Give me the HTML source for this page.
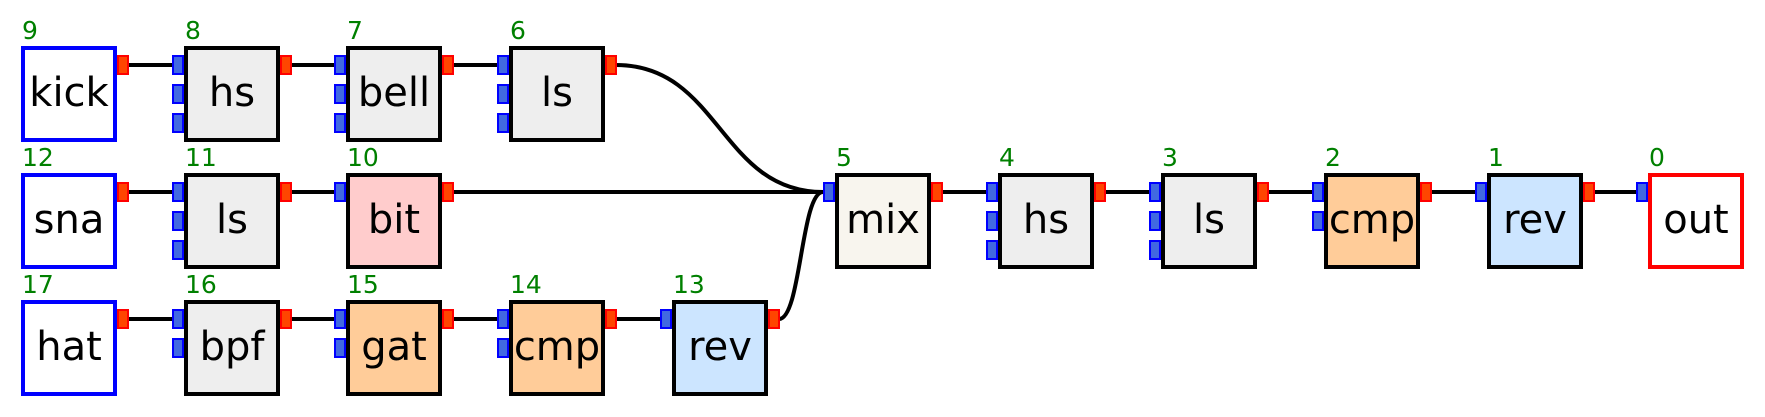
<!DOCTYPE html>
<html><head><meta charset="utf-8"><style>
html,body{margin:0;padding:0;background:#fff;}
svg{display:block;}
text{font-family:"DejaVu Sans","Liberation Sans",sans-serif;}
.lbl{font-size:40px;fill:#000;text-anchor:middle;}
.num{font-size:25px;fill:#008000;}
.op{fill:#ff4500;stroke:#ff0000;stroke-width:2;}
.ip{fill:#4169e1;stroke:#0000ff;stroke-width:2;}
.e{stroke:#000;stroke-width:4;fill:none;}
</style></head><body>
<svg width="1765" height="417" viewBox="0 0 1765 417" xmlns="http://www.w3.org/2000/svg">
<!-- edges -->
<g class="e">
<line x1="128" y1="65" x2="172" y2="65"/>
<line x1="291" y1="65" x2="334" y2="65"/>
<line x1="453" y1="65" x2="497" y2="65"/>
<path d="M616,65 C720,65 720,192 823,192"/>
<line x1="128" y1="192" x2="172" y2="192"/>
<line x1="291" y1="192" x2="334" y2="192"/>
<line x1="453" y1="192" x2="823" y2="192"/>
<path d="M779,319 C801,319 801,192 823,192"/>
<line x1="128" y1="319" x2="172" y2="319"/>
<line x1="291" y1="319" x2="334" y2="319"/>
<line x1="453" y1="319" x2="497" y2="319"/>
<line x1="616" y1="319" x2="660" y2="319"/>
<line x1="942" y1="192" x2="986" y2="192"/>
<line x1="1105" y1="192" x2="1149" y2="192"/>
<line x1="1268" y1="192" x2="1312" y2="192"/>
<line x1="1431" y1="192" x2="1475" y2="192"/>
<line x1="1594" y1="192" x2="1636" y2="192"/>
</g>

<!-- row 0 -->
<g>
<rect x="23" y="48" width="92" height="92" fill="#fff" stroke="#0000ff" stroke-width="4"/>
<text class="lbl" x="69" y="106">kick</text><text class="num" x="22" y="39">9</text>
<rect class="op" x="118" y="56" width="10" height="18"/>

<rect x="186" y="48" width="92" height="92" fill="#eeeeee" stroke="#000" stroke-width="4"/>
<text class="lbl" x="232" y="106">hs</text><text class="num" x="185" y="39">8</text>
<rect class="ip" x="173" y="56" width="10" height="18"/><rect class="ip" x="173" y="85" width="10" height="18"/><rect class="ip" x="173" y="114" width="10" height="18"/>
<rect class="op" x="281" y="56" width="10" height="18"/>

<rect x="348" y="48" width="92" height="92" fill="#eeeeee" stroke="#000" stroke-width="4"/>
<text class="lbl" x="394" y="106">bell</text><text class="num" x="347" y="39">7</text>
<rect class="ip" x="335" y="56" width="10" height="18"/><rect class="ip" x="335" y="85" width="10" height="18"/><rect class="ip" x="335" y="114" width="10" height="18"/>
<rect class="op" x="443" y="56" width="10" height="18"/>

<rect x="511" y="48" width="92" height="92" fill="#eeeeee" stroke="#000" stroke-width="4"/>
<text class="lbl" x="557" y="106">ls</text><text class="num" x="510" y="39">6</text>
<rect class="ip" x="498" y="56" width="10" height="18"/><rect class="ip" x="498" y="85" width="10" height="18"/><rect class="ip" x="498" y="114" width="10" height="18"/>
<rect class="op" x="606" y="56" width="10" height="18"/>
</g>

<!-- row 1 -->
<g>
<rect x="23" y="175" width="92" height="92" fill="#fff" stroke="#0000ff" stroke-width="4"/>
<text class="lbl" x="69" y="233">sna</text><text class="num" x="22" y="166">12</text>
<rect class="op" x="118" y="183" width="10" height="18"/>

<rect x="186" y="175" width="92" height="92" fill="#eeeeee" stroke="#000" stroke-width="4"/>
<text class="lbl" x="232" y="233">ls</text><text class="num" x="185" y="166">11</text>
<rect class="ip" x="173" y="183" width="10" height="18"/><rect class="ip" x="173" y="212" width="10" height="18"/><rect class="ip" x="173" y="241" width="10" height="18"/>
<rect class="op" x="281" y="183" width="10" height="18"/>

<rect x="348" y="175" width="92" height="92" fill="#ffcccc" stroke="#000" stroke-width="4"/>
<text class="lbl" x="394" y="233">bit</text><text class="num" x="347" y="166">10</text>
<rect class="ip" x="335" y="183" width="10" height="18"/>
<rect class="op" x="443" y="183" width="10" height="18"/>

<rect x="837" y="175" width="92" height="92" fill="#f8f5ee" stroke="#000" stroke-width="4"/>
<text class="lbl" x="883" y="233">mix</text><text class="num" x="836" y="166">5</text>
<rect class="ip" x="824" y="183" width="10" height="18"/>
<rect class="op" x="932" y="183" width="10" height="18"/>

<rect x="1000" y="175" width="92" height="92" fill="#eeeeee" stroke="#000" stroke-width="4"/>
<text class="lbl" x="1046" y="233">hs</text><text class="num" x="999" y="166">4</text>
<rect class="ip" x="987" y="183" width="10" height="18"/><rect class="ip" x="987" y="212" width="10" height="18"/><rect class="ip" x="987" y="241" width="10" height="18"/>
<rect class="op" x="1095" y="183" width="10" height="18"/>

<rect x="1163" y="175" width="92" height="92" fill="#eeeeee" stroke="#000" stroke-width="4"/>
<text class="lbl" x="1209" y="233">ls</text><text class="num" x="1162" y="166">3</text>
<rect class="ip" x="1150" y="183" width="10" height="18"/><rect class="ip" x="1150" y="212" width="10" height="18"/><rect class="ip" x="1150" y="241" width="10" height="18"/>
<rect class="op" x="1258" y="183" width="10" height="18"/>

<rect x="1326" y="175" width="92" height="92" fill="#ffcc99" stroke="#000" stroke-width="4"/>
<text class="lbl" x="1372" y="233">cmp</text><text class="num" x="1325" y="166">2</text>
<rect class="ip" x="1313" y="183" width="10" height="18"/><rect class="ip" x="1313" y="212" width="10" height="18"/>
<rect class="op" x="1421" y="183" width="10" height="18"/>

<rect x="1489" y="175" width="92" height="92" fill="#cce5ff" stroke="#000" stroke-width="4"/>
<text class="lbl" x="1535" y="233">rev</text><text class="num" x="1488" y="166">1</text>
<rect class="ip" x="1476" y="183" width="10" height="18"/>
<rect class="op" x="1584" y="183" width="10" height="18"/>

<rect x="1650" y="175" width="92" height="92" fill="#fff" stroke="#ff0000" stroke-width="4"/>
<text class="lbl" x="1696" y="233">out</text><text class="num" x="1649" y="166">0</text>
<rect class="ip" x="1637" y="183" width="10" height="18"/>
</g>

<!-- row 2 -->
<g>
<rect x="23" y="302" width="92" height="92" fill="#fff" stroke="#0000ff" stroke-width="4"/>
<text class="lbl" x="69" y="360">hat</text><text class="num" x="22" y="293">17</text>
<rect class="op" x="118" y="310" width="10" height="18"/>

<rect x="186" y="302" width="92" height="92" fill="#eeeeee" stroke="#000" stroke-width="4"/>
<text class="lbl" x="232" y="360">bpf</text><text class="num" x="185" y="293">16</text>
<rect class="ip" x="173" y="310" width="10" height="18"/><rect class="ip" x="173" y="339" width="10" height="18"/>
<rect class="op" x="281" y="310" width="10" height="18"/>

<rect x="348" y="302" width="92" height="92" fill="#ffcc99" stroke="#000" stroke-width="4"/>
<text class="lbl" x="394" y="360">gat</text><text class="num" x="347" y="293">15</text>
<rect class="ip" x="335" y="310" width="10" height="18"/><rect class="ip" x="335" y="339" width="10" height="18"/>
<rect class="op" x="443" y="310" width="10" height="18"/>

<rect x="511" y="302" width="92" height="92" fill="#ffcc99" stroke="#000" stroke-width="4"/>
<text class="lbl" x="557" y="360">cmp</text><text class="num" x="510" y="293">14</text>
<rect class="ip" x="498" y="310" width="10" height="18"/><rect class="ip" x="498" y="339" width="10" height="18"/>
<rect class="op" x="606" y="310" width="10" height="18"/>

<rect x="674" y="302" width="92" height="92" fill="#cce5ff" stroke="#000" stroke-width="4"/>
<text class="lbl" x="720" y="360">rev</text><text class="num" x="673" y="293">13</text>
<rect class="ip" x="661" y="310" width="10" height="18"/>
<rect class="op" x="769" y="310" width="10" height="18"/>
</g>
</svg>
</body></html>
